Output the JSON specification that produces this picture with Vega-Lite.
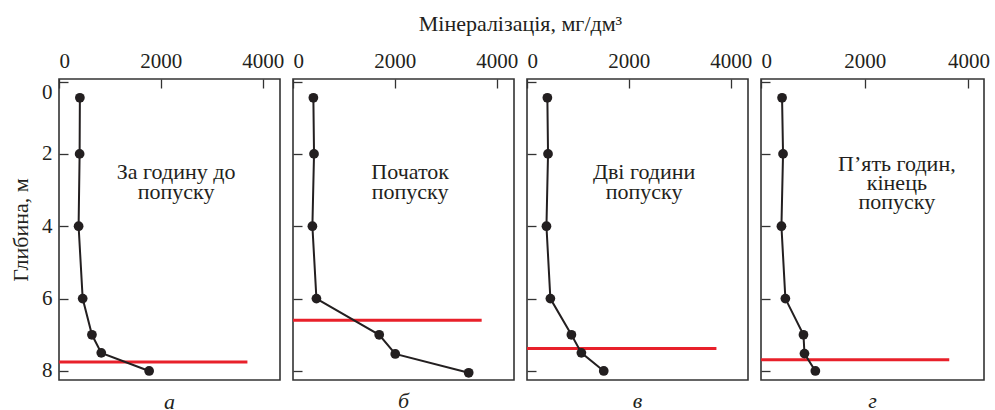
{
  "$schema": "https://vega.github.io/schema/vega-lite/v6.json",
  "padding": {"left": 8, "top": 13, "right": 0, "bottom": 0},
  "background": "white",
  "title": {"text": "Мінералізація, мг/дм³", "anchor": "middle", "dx": 21, "font": "Liberation Serif", "fontSize": 22, "fontWeight": "normal", "color": "#231f20", "offset": 13},
  "datasets": {
    "pts": [
      {"panel": "a", "depth": 0.45, "val": 410},
      {"panel": "a", "depth": 2, "val": 405},
      {"panel": "a", "depth": 4, "val": 385},
      {"panel": "a", "depth": 6, "val": 465},
      {"panel": "a", "depth": 7, "val": 647},
      {"panel": "a", "depth": 7.5, "val": 830},
      {"panel": "a", "depth": 8, "val": 1770},
      {"panel": "b", "depth": 0.45, "val": 400},
      {"panel": "b", "depth": 2, "val": 413},
      {"panel": "b", "depth": 4, "val": 381},
      {"panel": "b", "depth": 6, "val": 460},
      {"panel": "b", "depth": 7, "val": 1693},
      {"panel": "b", "depth": 7.53, "val": 2008},
      {"panel": "b", "depth": 8.05, "val": 3450},
      {"panel": "c", "depth": 0.45, "val": 400},
      {"panel": "c", "depth": 2, "val": 413},
      {"panel": "c", "depth": 4, "val": 382},
      {"panel": "c", "depth": 6, "val": 459},
      {"panel": "c", "depth": 7, "val": 872},
      {"panel": "c", "depth": 7.5, "val": 1068},
      {"panel": "c", "depth": 8, "val": 1507},
      {"panel": "d", "depth": 0.45, "val": 406},
      {"panel": "d", "depth": 2, "val": 425},
      {"panel": "d", "depth": 4, "val": 394},
      {"panel": "d", "depth": 6, "val": 470},
      {"panel": "d", "depth": 7, "val": 819},
      {"panel": "d", "depth": 7.52, "val": 838},
      {"panel": "d", "depth": 8, "val": 1048}
    ],
    "red": [
      {"panel": "a", "depth": 7.75, "x1": 0, "x2": 3700},
      {"panel": "b", "depth": 6.6, "x1": 0, "x2": 3705},
      {"panel": "c", "depth": 7.38, "x1": 0, "x2": 3720},
      {"panel": "d", "depth": 7.69, "x1": 0, "x2": 3630}
    ],
    "notes": [
      {"panel": "a", "depth": 2.49, "val": 2300, "label": "За годину до\nпопуску"},
      {"panel": "b", "depth": 2.49, "val": 2300, "label": "Початок\nпопуску"},
      {"panel": "c", "depth": 2.49, "val": 2300, "label": "Дві години\nпопуску"},
      {"panel": "d", "depth": 2.28, "val": 2620, "label": "П’ять годин,\nкінець\nпопуску"}
    ]
  },
  "config": {
    "view": {"stroke": "#333333", "strokeWidth": 1.6},
    "font": "Liberation Serif",
    "axis": {"domain": false, "grid": false, "format": "d", "labelFont": "Liberation Serif", "labelFontSize": 21, "labelColor": "#231f20", "tickColor": "#333333", "tickWidth": 1.3, "tickSize": -9, "titleFont": "Liberation Serif", "titleFontSize": 22, "titleFontWeight": "normal", "titleColor": "#231f20"},
    "concat": {"spacing": 5}
  },
  "hconcat": [
    {
      "width": 221, "height": 301,
      "title": {"text": "а", "orient": "bottom", "font": "Liberation Serif", "fontStyle": "italic", "fontSize": 22, "fontWeight": "normal", "color": "#231f20", "offset": 11},
      "layer": [
        {"data": {"name": "red"}, "transform": [{"filter": "datum.panel === 'a'"}], "mark": {"type": "rule", "color": "#e8202a", "strokeWidth": 3}, "encoding": {"x": {"field": "x1", "type": "quantitative"}, "x2": {"field": "x2"}, "y": {"field": "depth", "type": "quantitative"}}},
        {"data": {"name": "pts"}, "transform": [{"filter": "datum.panel === 'a'"}], "mark": {"type": "line", "color": "#231f20", "strokeWidth": 2, "point": {"filled": true, "size": 95, "color": "#231f20"}},
          "encoding": {
            "x": {"field": "val", "type": "quantitative", "scale": {"domain": [0, 4340], "nice": false}, "axis": {"orient": "top", "values": [0, 2000, 4000], "title": null, "labelFlush": 4, "labelPadding": 17}},
            "y": {"field": "depth", "type": "quantitative", "scale": {"domain": [8.25, -0.07], "nice": false, "zero": false}, "axis": {"values": [0, 2, 4, 6, 8], "title": "Глибина, м", "labelFlush": 4, "labelPadding": 16, "titlePadding": 9}},
            "order": {"field": "depth"}
          }},
        {"data": {"name": "notes"}, "transform": [{"filter": "datum.panel === 'a'"}], "mark": {"type": "text", "font": "Liberation Serif", "fontSize": 22, "color": "#231f20", "lineBreak": "\n", "lineHeight": 20, "baseline": "middle"}, "encoding": {"x": {"field": "val", "type": "quantitative"}, "y": {"field": "depth", "type": "quantitative"}, "text": {"field": "label"}}}
      ]
    },
    {
      "width": 221, "height": 301,
      "title": {"text": "б", "orient": "bottom", "font": "Liberation Serif", "fontStyle": "italic", "fontSize": 22, "fontWeight": "normal", "color": "#231f20", "offset": 11},
      "layer": [
        {"data": {"name": "red"}, "transform": [{"filter": "datum.panel === 'b'"}], "mark": {"type": "rule", "color": "#e8202a", "strokeWidth": 3}, "encoding": {"x": {"field": "x1", "type": "quantitative"}, "x2": {"field": "x2"}, "y": {"field": "depth", "type": "quantitative"}}},
        {"data": {"name": "pts"}, "transform": [{"filter": "datum.panel === 'b'"}], "mark": {"type": "line", "color": "#231f20", "strokeWidth": 2, "point": {"filled": true, "size": 95, "color": "#231f20"}},
          "encoding": {
            "x": {"field": "val", "type": "quantitative", "scale": {"domain": [0, 4340], "nice": false}, "axis": {"orient": "top", "values": [0, 2000, 4000], "title": null, "labelFlush": 4, "labelPadding": 17}},
            "y": {"field": "depth", "type": "quantitative", "scale": {"domain": [8.25, -0.07], "nice": false, "zero": false}, "axis": {"values": [0, 2, 4, 6, 8], "title": null, "labels": false}},
            "order": {"field": "depth"}
          }},
        {"data": {"name": "notes"}, "transform": [{"filter": "datum.panel === 'b'"}], "mark": {"type": "text", "font": "Liberation Serif", "fontSize": 22, "color": "#231f20", "lineBreak": "\n", "lineHeight": 20, "baseline": "middle"}, "encoding": {"x": {"field": "val", "type": "quantitative"}, "y": {"field": "depth", "type": "quantitative"}, "text": {"field": "label"}}}
      ]
    },
    {
      "width": 221, "height": 301,
      "title": {"text": "в", "orient": "bottom", "font": "Liberation Serif", "fontStyle": "italic", "fontSize": 22, "fontWeight": "normal", "color": "#231f20", "offset": 11},
      "layer": [
        {"data": {"name": "red"}, "transform": [{"filter": "datum.panel === 'c'"}], "mark": {"type": "rule", "color": "#e8202a", "strokeWidth": 3}, "encoding": {"x": {"field": "x1", "type": "quantitative"}, "x2": {"field": "x2"}, "y": {"field": "depth", "type": "quantitative"}}},
        {"data": {"name": "pts"}, "transform": [{"filter": "datum.panel === 'c'"}], "mark": {"type": "line", "color": "#231f20", "strokeWidth": 2, "point": {"filled": true, "size": 95, "color": "#231f20"}},
          "encoding": {
            "x": {"field": "val", "type": "quantitative", "scale": {"domain": [0, 4340], "nice": false}, "axis": {"orient": "top", "values": [0, 2000, 4000], "title": null, "labelFlush": 4, "labelPadding": 17}},
            "y": {"field": "depth", "type": "quantitative", "scale": {"domain": [8.25, -0.07], "nice": false, "zero": false}, "axis": {"values": [0, 2, 4, 6, 8], "title": null, "labels": false}},
            "order": {"field": "depth"}
          }},
        {"data": {"name": "notes"}, "transform": [{"filter": "datum.panel === 'c'"}], "mark": {"type": "text", "font": "Liberation Serif", "fontSize": 22, "color": "#231f20", "lineBreak": "\n", "lineHeight": 20, "baseline": "middle"}, "encoding": {"x": {"field": "val", "type": "quantitative"}, "y": {"field": "depth", "type": "quantitative"}, "text": {"field": "label"}}}
      ]
    },
    {
      "width": 223, "height": 301,
      "title": {"text": "г", "orient": "bottom", "font": "Liberation Serif", "fontStyle": "italic", "fontSize": 22, "fontWeight": "normal", "color": "#231f20", "offset": 11},
      "layer": [
        {"data": {"name": "red"}, "transform": [{"filter": "datum.panel === 'd'"}], "mark": {"type": "rule", "color": "#e8202a", "strokeWidth": 3}, "encoding": {"x": {"field": "x1", "type": "quantitative"}, "x2": {"field": "x2"}, "y": {"field": "depth", "type": "quantitative"}}},
        {"data": {"name": "pts"}, "transform": [{"filter": "datum.panel === 'd'"}], "mark": {"type": "line", "color": "#231f20", "strokeWidth": 2, "point": {"filled": true, "size": 95, "color": "#231f20"}},
          "encoding": {
            "x": {"field": "val", "type": "quantitative", "scale": {"domain": [0, 4300], "nice": false}, "axis": {"orient": "top", "values": [0, 2000, 4000], "title": null, "labelFlush": 4, "labelPadding": 17}},
            "y": {"field": "depth", "type": "quantitative", "scale": {"domain": [8.25, -0.07], "nice": false, "zero": false}, "axis": {"values": [0, 2, 4, 6, 8], "title": null, "labels": false}},
            "order": {"field": "depth"}
          }},
        {"data": {"name": "notes"}, "transform": [{"filter": "datum.panel === 'd'"}], "mark": {"type": "text", "font": "Liberation Serif", "fontSize": 22, "color": "#231f20", "lineBreak": "\n", "lineHeight": 19, "baseline": "middle"}, "encoding": {"x": {"field": "val", "type": "quantitative"}, "y": {"field": "depth", "type": "quantitative"}, "text": {"field": "label"}}}
      ]
    }
  ]
}
